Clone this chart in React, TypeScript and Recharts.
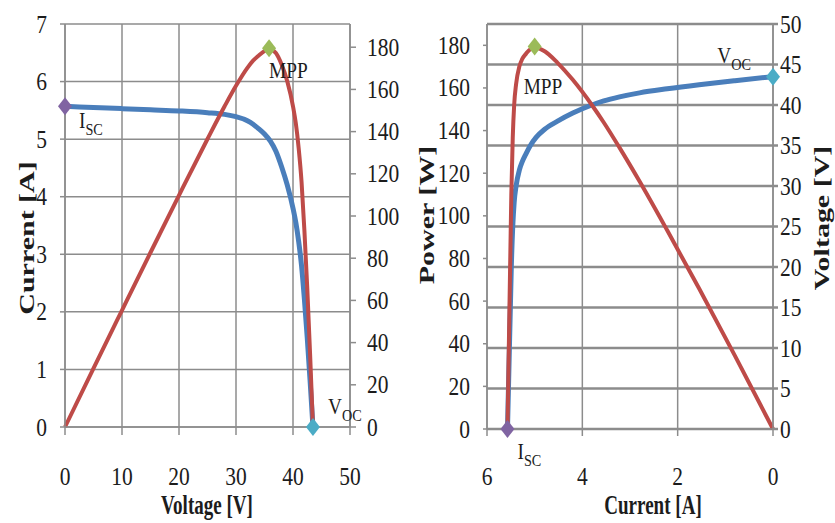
import {
  ComposedChart,
  Line,
  XAxis,
  YAxis,
  CartesianGrid,
  ReferenceDot,
} from "recharts";

// measured points of the module curve
const volts = [0, 5, 10, 15, 20, 25, 28, 30, 32, 33, 34, 35, 36, 37, 38, 39, 40, 40.5, 41, 41.5, 42, 42.5, 43, 43.5];
const amps = [5.57, 5.55, 5.53, 5.51, 5.49, 5.46, 5.43, 5.39, 5.32, 5.26, 5.18, 5.09, 4.97, 4.79, 4.52, 4.2, 3.8, 3.55, 3.22, 2.8, 2.22, 1.55, 0.8, 0];
const watts = [0, 27.8, 55.3, 82.7, 109.8, 136.5, 152.0, 161.7, 170.2, 173.6, 176.1, 178.2, 178.9, 177.2, 171.8, 163.8, 152.0, 143.8, 132.0, 116.2, 93.2, 65.9, 34.4, 0];

// special points: Isc, MPP, Voc
const markV = [0, 35.8, 43.5];
const markI = [5.57, 5.0, 0];
const markP = [0, 179.5, 0];

const voltTicks = [0, 10, 20, 30, 40, 50];
const ampTicks = [0, 1, 2, 3, 4, 5, 6, 7];
const wattTicks = [0, 20, 40, 60, 80, 100, 120, 140, 160, 180];
const ampTicksRev = [0, 2, 4, 6];
const voltTicks5 = [0, 5, 10, 15, 20, 25, 30, 35, 40, 45, 50];

const data = volts.map((v, k) => ({ v, i: amps[k], p: watts[k] }));

const SERIF = "'Liberation Serif', 'Times New Roman', serif";
const INK = "#1c1c1c";
const GRID = "#8c8c8c";
const BLUE = "#4A7EBB";
const RED = "#BE4B48";
const PURPLE = "#8064A2";
const GREEN = "#9BBB59";
const AQUA = "#4BACC6";

const makeTick = (anchor: "start" | "middle" | "end", dy: number) => (props: any) => {
  const { x, y, payload } = props;
  return (
    <text
      transform={`translate(${x},${y + dy}) scale(0.86,1)`}
      textAnchor={anchor}
      fontFamily={SERIF}
      fontSize={25}
      fill={INK}
    >
      {payload.value}
    </text>
  );
};

const marker =
  (color: string, main: string, sub: string, dx: number, dy: number, anchor: "start" | "end") =>
  (props: any) => {
    const { cx, cy } = props;
    return (
      <g>
        <polygon
          points={`${cx},${cy - 9} ${cx + 7},${cy} ${cx},${cy + 9} ${cx - 7},${cy}`}
          fill={color}
        />
        <text
          transform={`translate(${cx + dx},${cy + dy}) scale(0.84,1)`}
          textAnchor={anchor}
          fontFamily={SERIF}
          fill={INK}
        >
          <tspan fontSize={23}>{main}</tspan>
          {sub && (
            <tspan fontSize={17} dy={7}>
              {sub}
            </tspan>
          )}
        </text>
      </g>
    );
  };

function Title({ x, y, rotate, children }: { x: number; y: number; rotate?: boolean; children: string }) {
  const t = rotate
    ? `translate(${x},${y}) scale(0.7,1) rotate(-90)`
    : `translate(${x},${y}) scale(0.68,1)`;
  return (
    <text
      transform={t}
      textAnchor="middle"
      fontFamily={SERIF}
      fontWeight={700}
      fontSize={rotate ? 30 : 28}
      fill={INK}
    >
      {children}
    </text>
  );
}

const axisStyle = { stroke: GRID, strokeWidth: 1.5 };

function IVChart() {
  return (
    <ComposedChart width={420} height={523} data={data} margin={{ top: 24, right: 0, bottom: 0, left: 0 }}>
      <CartesianGrid yAxisId="i" stroke={GRID} strokeWidth={1.5} />
      <XAxis
        dataKey="v"
        type="number"
        domain={[0, 50]}
        ticks={voltTicks}
        height={96}
        tickSize={8}
        tickMargin={40}
        axisLine={axisStyle}
        tickLine={axisStyle}
        tick={makeTick("middle", 10)}
      />
      <YAxis
        yAxisId="i"
        type="number"
        domain={[0, 7]}
        ticks={ampTicks}
        width={65}
        tickSize={5}
        tickMargin={13}
        axisLine={axisStyle}
        tickLine={axisStyle}
        tick={makeTick("end", 8.5)}
      />
      <YAxis
        yAxisId="p"
        orientation="right"
        type="number"
        domain={[0, 191]}
        ticks={wattTicks}
        width={70}
        tickSize={6}
        tickMargin={11}
        axisLine={axisStyle}
        tickLine={axisStyle}
        tick={makeTick("start", 8.5)}
      />
      <Line yAxisId="i" dataKey="i" type="monotone" stroke={BLUE} strokeWidth={5} dot={false} activeDot={false} isAnimationActive={false} />
      <Line yAxisId="p" dataKey="p" type="monotone" stroke={RED} strokeWidth={4} dot={false} activeDot={false} isAnimationActive={false} />
      <ReferenceDot yAxisId="i" x={markV[0]} y={markI[0]} ifOverflow="visible" shape={marker(PURPLE, "I", "SC", 14, 22, "start")} />
      <ReferenceDot yAxisId="p" x={markV[1]} y={markP[1]} ifOverflow="visible" shape={marker(GREEN, "MPP", "", 0, 30, "start")} />
      <ReferenceDot yAxisId="i" x={markV[2]} y={markI[2]} ifOverflow="visible" shape={marker(AQUA, "V", "OC", 15, -13, "start")} />
    </ComposedChart>
  );
}

function PIChart() {
  return (
    <ComposedChart width={420} height={523} data={data} margin={{ top: 24, right: 0, bottom: 0, left: 0 }}>
      <CartesianGrid yAxisId="v" vertical={false} stroke={GRID} strokeWidth={2.5} />
      <CartesianGrid yAxisId="v" horizontal={false} stroke={GRID} strokeWidth={1.5} />
      <XAxis
        dataKey="i"
        type="number"
        domain={[0, 6]}
        ticks={ampTicksRev}
        reversed
        height={94}
        tickSize={7}
        tickMargin={39}
        axisLine={axisStyle}
        tickLine={axisStyle}
        tick={makeTick("middle", 10)}
      />
      <YAxis
        yAxisId="p"
        type="number"
        domain={[0, 190]}
        ticks={wattTicks}
        width={72}
        tickSize={4}
        tickMargin={13}
        axisLine={axisStyle}
        tickLine={axisStyle}
        tick={makeTick("end", 8.5)}
      />
      <YAxis
        yAxisId="v"
        orientation="right"
        type="number"
        domain={[0, 50]}
        ticks={voltTicks5}
        width={62}
        tickSize={5}
        tickMargin={2}
        axisLine={axisStyle}
        tickLine={{ stroke: GRID, strokeWidth: 2.5 }}
        tick={makeTick("start", 8.5)}
      />
      <Line yAxisId="v" dataKey="v" type="monotone" stroke={BLUE} strokeWidth={5} dot={false} activeDot={false} isAnimationActive={false} />
      <Line yAxisId="p" dataKey="p" type="monotone" stroke={RED} strokeWidth={4} dot={false} activeDot={false} isAnimationActive={false} />
      <ReferenceDot yAxisId="p" x={markI[0]} y={markP[0]} ifOverflow="visible" shape={marker(PURPLE, "I", "SC", 10, 30, "start")} />
      <ReferenceDot yAxisId="p" x={markI[1]} y={markP[1]} ifOverflow="visible" shape={marker(GREEN, "MPP", "", -11, 48, "start")} />
      <ReferenceDot yAxisId="v" x={markI[2]} y={markV[2]} ifOverflow="visible" shape={marker(AQUA, "V", "OC", -22, -14, "end")} />
    </ComposedChart>
  );
}

export default function App() {
  return (
    <div style={{ position: "absolute", left: 0, top: 0, width: 835, height: 523, background: "#fff" }}>
      <div style={{ position: "absolute", left: 0, top: 0 }}>
        <IVChart />
      </div>
      <div style={{ position: "absolute", left: 415, top: 0 }}>
        <PIChart />
      </div>
      <svg width={835} height={523} style={{ position: "absolute", left: 0, top: 0, pointerEvents: "none" }}>
        <Title x={34} y={238} rotate>Current [A]</Title>
        <Title x={207} y={514}>Voltage [V]</Title>
        <Title x={434} y={215} rotate>Power [W]</Title>
        <Title x={653} y={514}>Current [A]</Title>
        <Title x={829} y={218} rotate>Voltage [V]</Title>
      </svg>
    </div>
  );
}
